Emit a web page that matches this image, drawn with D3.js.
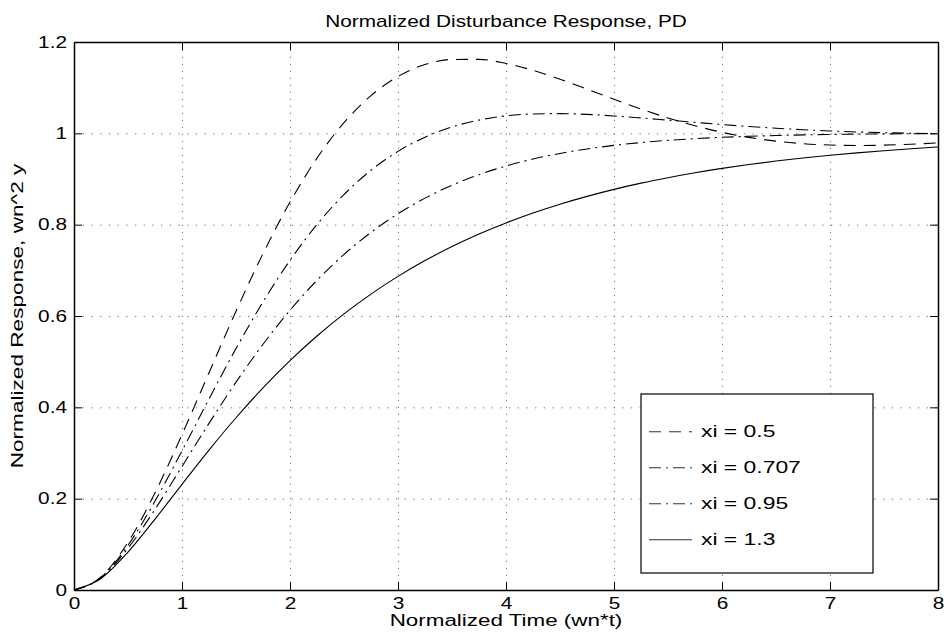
<!DOCTYPE html>
<html>
<head>
<meta charset="utf-8">
<script src="https://cdn.jsdelivr.net/npm/d3@7"></script>
<style>
  body { margin: 0; background: #fff; }
  svg { display: block; font-family: "Liberation Sans", Arial, sans-serif; }
</style>
</head>
<body>
<svg id="chart" width="944" height="637"></svg>
<script>
// normalized time samples (wn*t)
const timeVals = [0, 0.25, 0.5, 0.75, 1, 1.25, 1.5, 1.75, 2, 2.25, 2.5, 2.75, 3, 3.25, 3.5, 3.75,
  4, 4.25, 4.5, 4.75, 5, 5.25, 5.5, 5.75, 6, 6.25, 6.5, 6.75, 7, 7.25, 7.5, 7.75, 8];

// response, one list per damping ratio
const xi05 = [0, 0.0287, 0.1044, 0.2127, 0.3403, 0.4758, 0.6105, 0.7367, 0.8494, 0.9457, 1.0234, 1.0826,
  1.1246, 1.1509, 1.1617, 1.1620, 1.1530, 1.1379, 1.1185, 1.0969, 1.0746, 1.0532, 1.0336, 1.0165,
  1.0023, 0.9911, 0.9829, 0.9774, 0.9744, 0.9734, 0.9741, 0.9762, 0.9790];
const xi0707 = [0, 0.0277, 0.0980, 0.1947, 0.3048, 0.4184, 0.5287, 0.6308, 0.7219, 0.8004, 0.8660, 0.9191,
  0.9605, 0.9916, 1.0140, 1.0290, 1.0383, 1.0424, 1.0432, 1.0415, 1.0381, 1.0337, 1.0289, 1.0241,
  1.0193, 1.0150, 1.0112, 1.0079, 1.0052, 1.0030, 1.0014, 1.0001, 0.9992];
const xi095 = [0, 0.0267, 0.0915, 0.1767, 0.2705, 0.3649, 0.4551, 0.5381, 0.6126, 0.6781, 0.7348, 0.7831,
  0.8240, 0.8581, 0.8863, 0.9095, 0.9284, 0.9437, 0.9560, 0.9658, 0.9736, 0.9798, 0.9846, 0.9884,
  0.9913, 0.9935, 0.9952, 0.9966, 0.9975, 0.9983, 0.9988, 0.9992, 0.9995];
const xi13 = [0, 0.0253, 0.0831, 0.1552, 0.2314, 0.3064, 0.3772, 0.4427, 0.5023, 0.5562, 0.6047, 0.6480,
  0.6867, 0.7213, 0.7520, 0.7795, 0.8038, 0.8255, 0.8448, 0.8620, 0.8773, 0.8909, 0.9029, 0.9137,
  0.9232, 0.9317, 0.9393, 0.9460, 0.9520, 0.9573, 0.9620, 0.9662, 0.9700];

const seriesNames = ["xi = 0.5", "xi = 0.707", "xi = 0.95", "xi = 1.3"];
const seriesValues = [xi05, xi0707, xi095, xi13];
const xTicks = [0, 1, 2, 3, 4, 5, 6, 7, 8];
const yTicks = [0, 0.2, 0.4, 0.6, 0.8, 1, 1.2];

// line styles (matlab '--', '-.', '-.', '-')
const dashes = ["12,8", "12,5,2,5", "12,5,2,5", null];

const svgWidth = 944, svgHeight = 637;
const margin = { top: 42, right: 6, bottom: 47, left: 74 };
const width = svgWidth - margin.left - margin.right;
const height = svgHeight - margin.top - margin.bottom;
const sx = 1.3; // the picture has horizontally stretched lettering

const svg = d3.select("#chart");
const g = svg.append("g").attr("transform", `translate(${margin.left},${margin.top})`);

const xScale = d3.scaleLinear().domain([0, 8]).range([0, width]);
const yScale = d3.scaleLinear().domain([0, 1.2]).range([height, 0]);

// grid
g.append("g")
  .attr("transform", `translate(0,${height})`)
  .call(d3.axisBottom(xScale).tickValues(xTicks).tickSize(-height).tickFormat(""))
  .call(a => a.select(".domain").remove())
  .call(a => a.selectAll(".tick line")
    .attr("stroke", "#777").attr("stroke-dasharray", "1.2,5.8"));

g.append("g")
  .call(d3.axisLeft(yScale).tickValues(yTicks).tickSize(-width).tickFormat(""))
  .call(a => a.select(".domain").remove())
  .call(a => a.selectAll(".tick line")
    .attr("stroke", "#777").attr("stroke-dasharray", "1.3,7.4"));

// curves
const line = d3.line()
  .x((d, i) => xScale(timeVals[i]))
  .y(d => yScale(d))
  .curve(d3.curveMonotoneX);

g.selectAll(".curve")
  .data(seriesValues)
  .join("path")
  .attr("class", "curve")
  .attr("d", line)
  .attr("fill", "none")
  .attr("stroke", "#000")
  .attr("stroke-width", 1.1)
  .attr("stroke-dasharray", (d, i) => dashes[i]);

// axes, ticks pointing inward on all four sides
const styleAxis = a => {
  a.select(".domain").attr("stroke", "#000").attr("stroke-width", 1.5);
  a.selectAll(".tick line").attr("stroke", "#000");
  a.selectAll("text").attr("font-size", 16).attr("fill", "#000")
    .attr("font-family", "Liberation Sans, Arial, sans-serif");
};

g.append("g")
  .attr("transform", `translate(0,${height})`)
  .call(d3.axisBottom(xScale).tickValues(xTicks).tickSizeInner(-8).tickSizeOuter(0).tickPadding(8))
  .call(styleAxis)
  .call(a => a.selectAll("text").attr("transform", `scale(${sx},1)`));

g.append("g")
  .call(d3.axisLeft(yScale).tickValues(yTicks).tickSizeInner(-8).tickSizeOuter(0).tickPadding(7 / sx)
    .tickFormat(d3.format("")))
  .call(styleAxis)
  .call(a => a.selectAll("text").attr("transform", `scale(${sx},1)`));

g.append("g")
  .call(d3.axisTop(xScale).tickValues(xTicks).tickSizeInner(-8).tickSizeOuter(0).tickFormat(""))
  .call(styleAxis);

g.append("g")
  .attr("transform", `translate(${width},0)`)
  .call(d3.axisRight(yScale).tickValues(yTicks).tickSizeInner(-8).tickSizeOuter(0).tickFormat(""))
  .call(styleAxis);

// legend
const legend = g.append("g").attr("transform", "translate(567,352)");
legend.append("rect")
  .attr("width", 232).attr("height", 179)
  .attr("fill", "#fff").attr("stroke", "#000").attr("stroke-width", 1.2);

const rows = legend.selectAll(".row")
  .data(seriesNames)
  .join("g")
  .attr("class", "row")
  .attr("transform", (d, i) => `translate(0,${37.7 + i * 36})`);

rows.append("line")
  .attr("x1", 8).attr("x2", 51)
  .attr("stroke", "#333").attr("stroke-width", 1.1)
  .attr("stroke-dasharray", (d, i) => dashes[i]);

rows.append("text")
  .attr("transform", "translate(60,0) scale(1.43,1)")
  .attr("dy", "0.35em")
  .attr("font-size", 16)
  .text(d => d);

// titles
svg.append("text")
  .attr("transform", `translate(${margin.left + width / 2},27) scale(${sx},1)`)
  .attr("text-anchor", "middle")
  .attr("font-size", 16)
  .text("Normalized Disturbance Response, PD");

svg.append("text")
  .attr("transform", `translate(${margin.left + width / 2},626) scale(1.4,1)`)
  .attr("text-anchor", "middle")
  .attr("font-size", 16)
  .text("Normalized Time (wn*t)");

svg.append("text")
  .attr("transform", `translate(22.7,${margin.top + height / 2}) rotate(-90) scale(1.33,1)`)
  .attr("text-anchor", "middle")
  .attr("font-size", 17)
  .text("Normalized Response, wn^2 y");
</script>
</body>
</html>
